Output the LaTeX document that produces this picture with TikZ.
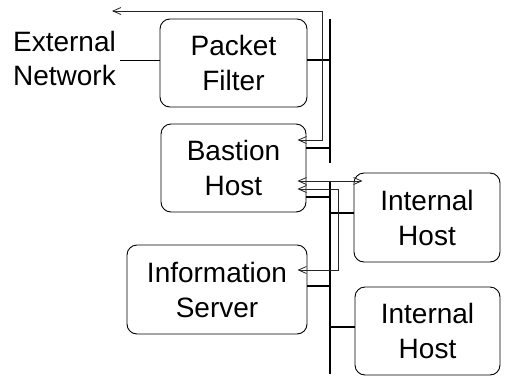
\documentclass[tikz,border=0pt]{standalone}
\usepackage{fontspec}
\setmainfont{Liberation Sans}
\usetikzlibrary{arrows.meta}
\begin{document}
\begin{tikzpicture}[x=1pt,y=-1pt,
  hostbox/.style={draw, line width=0.9pt, rounded corners=10pt, align=center,
    font=\fontsize{28}{35}\selectfont, inner sep=0pt},
  lan/.style={line width=1.5pt},
  flow/.style={line width=0.8pt, draw=black!85},
  dtip/.style={{Straight Barb[length=8pt,width=7pt,line width=0.8pt]}-{Straight Barb[length=8pt,width=7pt,line width=0.8pt]}}
]
\useasboundingbox (0,0) rectangle (506,381);
\node[hostbox, minimum width=147pt, minimum height=88pt] (pf) at (233.5,63) {Packet\\Filter};
\node[hostbox, minimum width=145pt, minimum height=88pt] (bh) at (233.5,168) {Bastion\\Host};
\node[hostbox, minimum width=180pt, minimum height=89pt] (is) at (217,289.5) {Information\\Server};
\node[hostbox, minimum width=146pt, minimum height=89pt] (ih1) at (427,217.5) {Internal\\Host};
\node[hostbox, minimum width=145pt, minimum height=88pt] (ih2) at (427.5,331) {Internal\\Host};
\node[align=center, anchor=east, font=\fontsize{28}{34}\selectfont, inner sep=4pt] (ext) at (120,58) {External\\Network};

% bus segments
\coordinate (busA) at (330,19);
\coordinate (busB) at (330,163);
\coordinate (busC) at (330,181);
\coordinate (busD) at (330,374);
\draw[lan] (busA) -- (busB);
\draw[lan] (busC) -- (busD);

% connections to bus
\draw[lan] ([yshift=3pt]pf.east) -- ([yshift=3pt]pf.east -| busA);
\coordinate (extend) at (ext.east |- 0,60);
\draw[line width=1pt] (extend) -- (extend -| pf.west);
\draw[lan] ([yshift=20pt]bh.east) -- ([yshift=20pt]bh.east -| busA);
\draw[lan] ([yshift=-29pt]bh.east) -- ([yshift=-29pt]bh.east -| busA);
\draw[lan] ([yshift=4.5pt]ih1.west) -- ([yshift=4.5pt]ih1.west -| busA);
\draw[lan] ([yshift=3.5pt]is.east) -- ([yshift=3.5pt]is.east -| busA);
\draw[lan] ([yshift=4pt]ih2.west) -- ([yshift=4pt]ih2.west -| busA);

% traffic flows
\coordinate (outtip) at (112,11);
\coordinate (c1) at (322,11);
\coordinate (b1) at ([xshift=-9pt,yshift=28pt]bh.east);
\draw[flow, dtip] (outtip) -- (c1) -- (c1 |- b1) -- (b1);
\coordinate (b2) at ([xshift=-9pt,yshift=-13pt]bh.east);
\coordinate (h1) at ([xshift=9pt]ih1.west);
\draw[flow, dtip] (b2) -- (b2 -| h1);
\coordinate (b3) at ([xshift=-9pt,yshift=-21pt]bh.east);
\coordinate (c2) at (338,189);
\coordinate (s1) at ([xshift=-10pt,yshift=19.5pt]is.east);
\draw[flow, dtip] (b3) -- (c2) -- (c2 |- s1) -- (s1);
\end{tikzpicture}
\end{document}
